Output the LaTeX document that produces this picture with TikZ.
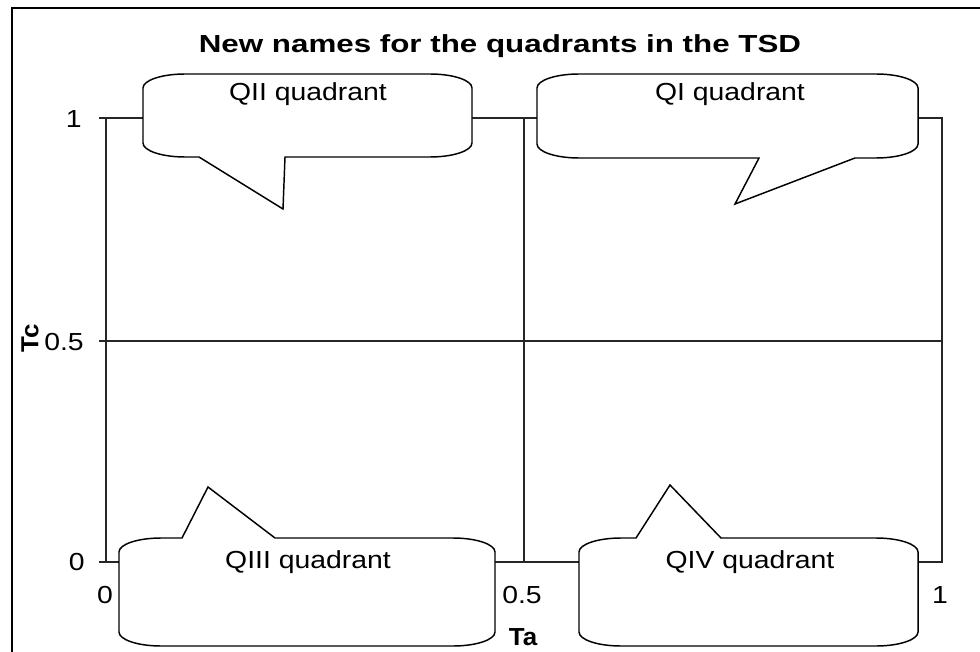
\documentclass[tikz,border=0pt]{standalone}
\usepackage{fontspec}
\usepackage{graphicx}
\setmainfont{Liberation Sans}
\newcommand\wx[1]{\scalebox{1.15}[1]{#1}}
\newcommand\wt[1]{\scalebox{1.27}[1]{#1}}
\tikzset{
  lab/.style={font=\fontsize{18.5}{21}\selectfont, inner sep=0pt},
  boldlab/.style={font=\bfseries\fontsize{18.5}{21}\selectfont, inner sep=0pt},
  plotline/.style={draw=black!85, line width=0.8pt},
  callout/.style={draw=black, fill=white, line width=1.1pt, line join=miter},
}
\begin{document}
\begin{tikzpicture}[x=0.75pt, y=-0.75pt]
\useasboundingbox (0,0) rectangle (980,652);
\begin{scope}
  \clip (0,0) rectangle (980,652);
  \draw[line width=1.4pt] (12,8) rectangle (995,667);
\end{scope}

% plot area
\coordinate (p00) at (106,562);
\coordinate (p11) at (942,118);
\draw[plotline] (p00) rectangle (p11);
\draw[plotline] (524,118) -- (524,562);
\draw[plotline] (106,341) -- (942,341);
\draw[plotline] (99,118) -- (106,118);
\draw[plotline] (99,341) -- (106,341);
\draw[plotline] (99,562) -- (106,562);

% title
\node[boldlab, anchor=base] (title) at (500,53) {\wt{New names for the quadrants in the TSD}};

% axis labels
\node[lab, anchor=base east] (y1) at (82,128) {\wx{1}};
\node[lab, anchor=base east] (y05) at (84,350) {\wx{0.5}};
\node[lab, anchor=base east] (y0) at (85,570) {\wx{0}};
\node[lab, anchor=base] (x0) at (105,603) {\wx{0}};
\node[lab, anchor=base] (x05) at (522,603) {\wx{0.5}};
\node[lab, anchor=base] (x1) at (940,603) {\wx{1}};
\node[boldlab, anchor=base] (ta) at (523,645) {\scalebox{1.05}[1]{Ta}};
\node[boldlab, rotate=90] (tc) at (30,338) {\scalebox{1.05}[1]{Tc}};

% callouts
\draw[callout] (143,88) .. controls (143,80.3) and (161.8,74) .. (185,74)
  -- (430,74) .. controls (453.2,74) and (472,80.3) .. (472,88)
  -- (472,143) .. controls (472,150.7) and (453.2,157) .. (430,157)
  -- (285,157) -- (283,209) -- (199,157)
  -- (185,157) .. controls (161.8,157) and (143,150.7) .. (143,143) -- cycle;
\draw[callout] (537,88) .. controls (537,80.3) and (555.8,74) .. (579,74)
  -- (876,74) .. controls (899.2,74) and (918,80.3) .. (918,88)
  -- (918,144) .. controls (918,151.7) and (899.2,158) .. (876,158)
  -- (855,158) -- (735,204) -- (759,158)
  -- (579,158) .. controls (555.8,158) and (537,151.7) .. (537,144) -- cycle;
\draw[callout] (119,552) .. controls (119,544.3) and (137.8,538) .. (161,538)
  -- (182,538) -- (208,487) -- (275,538)
  -- (453,538) .. controls (476.2,538) and (495,544.3) .. (495,552)
  -- (495,632) .. controls (495,639.7) and (476.2,646) .. (453,646)
  -- (161,646) .. controls (137.8,646) and (119,639.7) .. (119,632) -- cycle;
\draw[callout] (579,552) .. controls (579,544.3) and (597.8,538) .. (621,538)
  -- (636,538) -- (670,485) -- (721,538)
  -- (876,538) .. controls (899.2,538) and (918,544.3) .. (918,552)
  -- (918,632) .. controls (918,639.7) and (899.2,646) .. (876,646)
  -- (621,646) .. controls (597.8,646) and (579,639.7) .. (579,632) -- cycle;

\node[lab, anchor=base] (q2) at (308,101) {\wx{QII quadrant}};
\node[lab, anchor=base] (q1) at (730,101) {\wx{QI quadrant}};
\node[lab, anchor=base] (q3) at (308,568) {\wx{QIII quadrant}};
\node[lab, anchor=base] (q4) at (750,568) {\wx{QIV quadrant}};
\end{tikzpicture}
\end{document}
